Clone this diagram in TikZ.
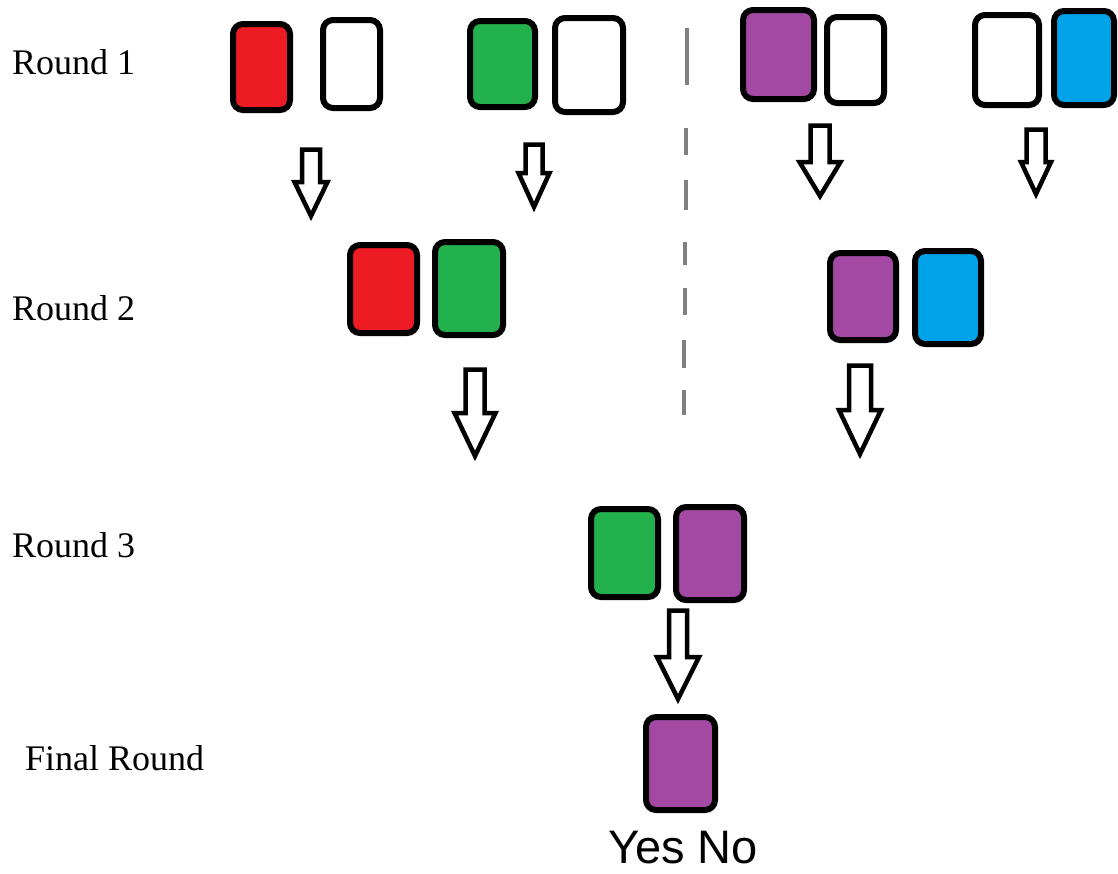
\documentclass[tikz,border=0pt]{standalone}
\usepackage{fontspec}
\setmainfont{Liberation Serif}
\newfontfamily\yesnofont{Liberation Sans}
\definecolor{pred}{HTML}{ED1C24}
\definecolor{pgreen}{HTML}{22B14C}
\definecolor{ppurple}{HTML}{A349A4}
\definecolor{pblue}{HTML}{00A2E8}
\definecolor{pgray}{HTML}{808080}
\newcommand{\blockarrow}[7]{% name, cx, top, shaft hw, head hw, head y, tip y
  \draw[arrowbody] (#2-#4,#3) -- (#2+#4,#3) -- (#2+#4,#6) -- (#2+#5,#6) -- (#2,#7) -- (#2-#5,#6) -- (#2-#4,#6) -- cycle;
  \coordinate (#1) at (#2,#7);}
\begin{document}
\begin{tikzpicture}[x=1pt,y=-1pt,
  card/.style={draw=black, line width=6pt, rounded corners=10pt, inner sep=0pt, outer sep=0pt},
  arrowbody/.style={draw=black, fill=white, line width=4.5pt, line join=miter},
  roundlabel/.style={anchor=base west, inner sep=0pt, font=\fontsize{36}{41}\selectfont},
  divider/.style={draw=pgray, line width=4pt},
]
\useasboundingbox (0,0) rectangle (1118,873);

% Round 1
\node[card, fill=pred,   minimum width=57, minimum height=86] (r1a) at (261.5,67) {};
\node[card, fill=white,  minimum width=57, minimum height=88] (r1b) at (351.5,64) {};
\node[card, fill=pgreen, minimum width=65, minimum height=86] (r1c) at (502.5,64) {};
\node[card, fill=white,  minimum width=68, minimum height=94] (r1d) at (589,65) {};
\node[card, fill=ppurple,minimum width=71, minimum height=89] (r1e) at (778.5,54.5) {};
\node[card, fill=white,  minimum width=57, minimum height=86] (r1f) at (855.5,60) {};
\node[card, fill=white,  minimum width=64, minimum height=90] (r1g) at (1007,60) {};
\node[card, fill=pblue,  minimum width=60, minimum height=94] (r1h) at (1084,58) {};

% Round 2
\node[card, fill=pred,   minimum width=67, minimum height=88] (r2a) at (383.5,289) {};
\node[card, fill=pgreen, minimum width=68, minimum height=93] (r2b) at (469,288.5) {};
\node[card, fill=ppurple,minimum width=66, minimum height=87] (r2c) at (863,296.5) {};
\node[card, fill=pblue,  minimum width=66, minimum height=93] (r2d) at (948,297.5) {};

% Round 3
\node[card, fill=pgreen, minimum width=67, minimum height=88] (r3a) at (624.5,553) {};
\node[card, fill=ppurple,minimum width=68, minimum height=93] (r3b) at (710,553.5) {};

% Final
\node[card, fill=ppurple,minimum width=69, minimum height=93] (fin) at (680.5,763.5) {};

% Block arrows
\blockarrow{a1}{311}{149.5}{9}{16.5}{182}{216}
\blockarrow{a2}{534}{144.5}{8.5}{15.5}{173}{207}
\blockarrow{a3}{820}{125.5}{9.5}{20.5}{162}{196}
\blockarrow{a4}{1036}{129.5}{9.5}{15}{162}{194}
\blockarrow{a5}{475}{369.5}{9.5}{20.5}{413}{456}
\blockarrow{a6}{860}{365.5}{11}{21}{410}{454}
\blockarrow{a7}{678}{610.5}{9}{21}{657}{699}

% Divider
\draw[divider] (687,28) -- (687,85)
  (686,128) -- (686,155)
  (686,180) -- (686,210)
  (685,242) -- (685,265)
  (685,288) -- (685,315)
  (684,340) -- (684,368)
  (684,390) -- (684,415);

% Labels
\node[roundlabel] (l1) at (12,74) {Round 1};
\node[roundlabel] (l2) at (12,320) {Round 2};
\node[roundlabel] (l3) at (12,557) {Round 3};
\node[roundlabel] (l4) at (25,770) {Final Round};
\node[anchor=base west, inner sep=0pt, font=\yesnofont\fontsize{47}{52}\selectfont] (yn) at (608,863) {Yes No};
\end{tikzpicture}
\end{document}
